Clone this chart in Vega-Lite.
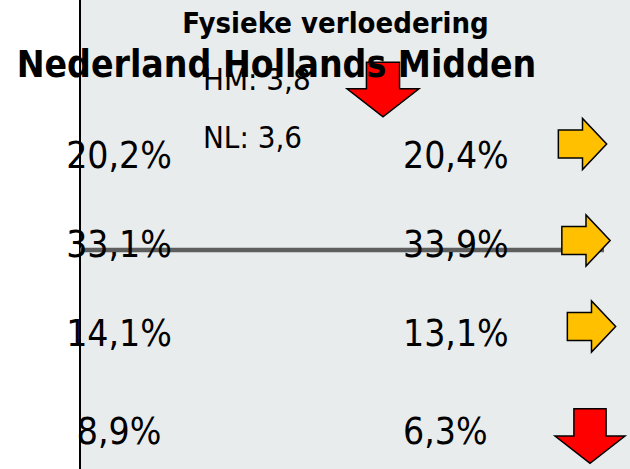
{
  "$schema": "https://vega.github.io/schema/vega-lite/v6.json",
  "width": 550,
  "height": 469,
  "autosize": "none",
  "padding": {"left": 80, "top": 0, "right": 0, "bottom": 0},
  "background": "#ffffff",
  "config": {
    "view": {"fill": "#e9eced", "stroke": null},
    "locale": {"number": {"decimal": ",", "thousands": ".", "grouping": [3], "currency": ["€", ""]}}
  },
  "datasets": {
    "rijen": [
      {"rij": 1, "nl": 0.202, "hm": 0.204, "trend": "gelijk"},
      {"rij": 2, "nl": 0.331, "hm": 0.339, "trend": "gelijk"},
      {"rij": 3, "nl": 0.141, "hm": 0.131, "trend": "gelijk"},
      {"rij": 4, "nl": 0.089, "hm": 0.063, "trend": "daling"}
    ],
    "scores": [
      {"gebied": "HM", "label": "HM: 3,8", "score": 3.8, "trend": "daling"},
      {"gebied": "NL", "label": "NL: 3,6", "score": 3.6}
    ],
    "koppen": [
      {"soort": "titel", "tekst": "Fysieke verloedering"},
      {"soort": "kop", "tekst": "Nederland Hollands Midden"}
    ]
  },
  "layer": [
    {
      "data": {"values": [{"grens": "links"}]},
      "mark": {"type": "rule", "color": "#000000", "strokeWidth": 2},
      "encoding": {
        "x": {"field": "grens", "type": "nominal", "scale": {"domain": ["links"], "range": [0, 0]}, "axis": null}
      }
    },
    {
      "data": {"values": [{"lijn": "scheiding"}]},
      "mark": {"type": "rule", "color": "#5e5e5e", "strokeWidth": 4.5},
      "encoding": {
        "y": {"field": "lijn", "type": "nominal", "scale": {"domain": ["scheiding"], "range": [250, 250]}, "axis": null},
        "x": {"datum": 0, "type": "quantitative", "scale": {"domain": [0, 1], "range": [0, 524], "nice": false, "zero": false}, "axis": null},
        "x2": {"datum": 1}
      }
    },
    {
      "data": {"name": "scores"},
      "mark": {"type": "text", "align": "left", "baseline": "alphabetic", "font": "DejaVu Sans Condensed", "fontSize": 31, "color": "#000000"},
      "encoding": {
        "x": {"field": "gebied", "type": "nominal", "scale": {"domain": ["HM", "NL"], "range": [123, 123]}, "axis": null},
        "y": {"field": "gebied", "type": "nominal", "scale": {"domain": ["HM", "NL"], "range": [90, 148], "padding": 0}, "axis": null},
        "text": {"field": "label"}
      }
    },
    {
      "data": {"name": "scores"},
      "transform": [{"filter": "datum.gebied === 'HM'"}],
      "mark": {"type": "point", "filled": true, "opacity": 1, "color": "#ff0000", "stroke": "#000000", "strokeWidth": 1.5, "size": 5184,
        "shape": "M-0.46,-0.76L0.46,-0.76L0.46,-0.02L1,-0.02L0,0.76L-1,-0.02L-0.46,-0.02Z"},
      "encoding": {
        "x": {"field": "gebied", "type": "nominal", "scale": {"domain": ["HM"], "range": [303, 303]}, "axis": null},
        "y": {"field": "gebied", "type": "nominal", "scale": {"domain": ["HM"], "range": [89.5, 89.5]}, "axis": null}
      }
    },
    {
      "data": {"name": "koppen"},
      "mark": {"type": "text", "align": "center", "baseline": "alphabetic", "font": "DejaVu Sans Condensed", "fontWeight": "bold", "color": "#000000"},
      "encoding": {
        "x": {"field": "soort", "type": "nominal", "scale": {"domain": ["titel", "kop"], "range": [255.5, 196.5], "padding": 0}, "axis": null},
        "y": {"field": "soort", "type": "nominal", "scale": {"domain": ["titel", "kop"], "range": [33, 77], "padding": 0}, "axis": null},
        "size": {"field": "soort", "type": "nominal", "scale": {"domain": ["titel", "kop"], "range": [29, 37]}, "legend": null},
        "text": {"field": "tekst"}
      }
    },
    {
      "data": {"name": "rijen"},
      "mark": {"type": "text", "align": "center", "baseline": "alphabetic", "font": "DejaVu Sans Condensed", "fontSize": 37, "color": "#000000"},
      "encoding": {
        "x": {"datum": "Nederland", "type": "nominal", "scale": {"domain": ["Nederland"], "range": [39, 39]}, "axis": null},
        "y": {"field": "rij", "type": "quantitative", "scale": {"domain": [1, 2, 3, 4], "range": [168, 257, 346, 444], "nice": false, "zero": false}, "axis": null},
        "text": {"field": "nl", "type": "quantitative", "format": ".1%"}
      }
    },
    {
      "data": {"name": "rijen"},
      "mark": {"type": "text", "align": "left", "baseline": "alphabetic", "font": "DejaVu Sans Condensed", "fontSize": 37, "color": "#000000"},
      "encoding": {
        "x": {"datum": "Hollands Midden", "type": "nominal", "scale": {"domain": ["Hollands Midden"], "range": [323, 323]}, "axis": null},
        "y": {"field": "rij", "type": "quantitative", "scale": {"domain": [1, 2, 3, 4], "range": [168, 257, 346, 444], "nice": false, "zero": false}, "axis": null},
        "text": {"field": "hm", "type": "quantitative", "format": ".1%"}
      }
    },
    {
      "data": {"name": "rijen"},
      "mark": {"type": "point", "filled": true, "opacity": 1, "stroke": "#000000", "strokeWidth": 1.5, "size": 4900},
      "encoding": {
        "x": {"field": "rij", "type": "quantitative", "scale": {"domain": [1, 2, 3, 4], "range": [502.5, 506, 511.5, 510], "nice": false, "zero": false}, "axis": null},
        "y": {"field": "rij", "type": "quantitative", "scale": {"domain": [1, 2, 3, 4], "range": [144, 240.5, 326.5, 436], "nice": false, "zero": false}, "axis": null},
        "shape": {"field": "trend", "type": "nominal", "scale": {"domain": ["gelijk", "daling"], "range": ["M-0.69,-0.4L0,-0.4L0,-0.73L0.69,0L0,0.73L0,0.4L-0.69,0.4Z", "M-0.46,-0.78L0.46,-0.78L0.46,0L1,0L0,0.78L-1,0L-0.46,0Z"]}, "legend": null},
        "color": {"field": "trend", "type": "nominal", "scale": {"domain": ["gelijk", "daling"], "range": ["#ffc000", "#ff0000"]}, "legend": null}
      }
    }
  ],
  "resolve": {"scale": {"x": "independent", "y": "independent", "size": "independent", "shape": "independent", "color": "independent"}}
}
